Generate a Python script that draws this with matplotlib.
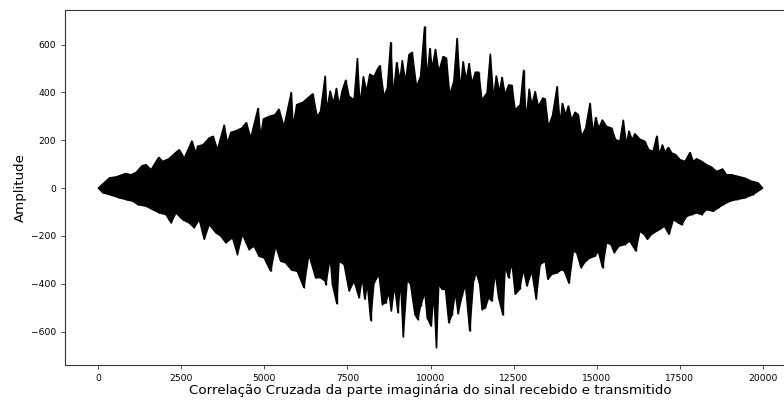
import matplotlib
matplotlib.use("Agg")
import matplotlib.pyplot as plt

# outer edge of the correlation trace
top_x = [0, 340, 540, 820, 990, 1140, 1320, 1440, 1590, 1820, 1940, 2120, 2340,
         2440, 2590, 2820, 2940, 2990, 3160, 3340, 3460, 3590, 3790, 3890, 3990,
         4140, 4320, 4460, 4590, 4810, 4890, 4970, 5140, 5320, 5440, 5590, 5810,
         5870, 5970, 6160, 6340, 6460, 6590, 6690, 6830,
         6880, 6980, 7080, 7170, 7250, 7350, 7450, 7550, 7700, 7800, 7880, 7980,
         8080, 8170, 8300, 8420, 8480, 8600, 8700, 8800, 8880, 8980, 9080, 9150,
         9250, 9350, 9450, 9580, 9700, 9820, 9900, 9980, 10050, 10150, 10250,
         10380, 10480, 10580, 10700, 10800, 10900, 10980, 11080, 11160, 11250,
         11350, 11450, 11550, 11700, 11800, 11900, 11980, 12080, 12150, 12250,
         12350, 12450, 12550, 12700, 12800, 12880, 12970, 13050, 13150, 13250,
         13380, 13450, 13550, 13670, 13810, 13900, 13970, 14070, 14150, 14250,
         14350, 14450, 14550, 14670, 14800, 14900, 14970, 15070, 15170, 15300,
         15450, 15570, 15700, 15800, 15900, 15970, 16070, 16150, 16300, 16450,
         16570, 16700, 16810, 16890, 16980, 17060, 17160, 17260, 17380, 17510,
         17660, 17810, 17910, 18010, 18160, 18310, 18460, 18610, 18790, 18910,
         19060, 19260, 19460, 19660, 19860, 20000]
top_y = [0, 43, 47, 61, 56, 66, 94, 98, 77, 129, 112, 122, 150,
         161, 126, 198, 147, 175, 182, 210, 217, 161, 265, 189, 233,
         240, 251, 275, 210, 335, 217, 289, 300, 307, 331, 258, 402,
         258, 349, 359, 381, 395, 300, 321, 470,
         328, 407, 356, 419, 349, 412, 453, 384, 370, 544, 349, 467,
         405, 477, 467, 502, 513, 384, 419, 611, 391, 526, 453, 534,
         446, 558, 569, 425, 467, 676, 460, 586, 502, 582, 488,
         551, 544, 391, 446, 628, 412, 530, 453, 523, 439,
         485, 485, 370, 398, 562, 377, 471, 402, 465, 391,
         432, 430, 328, 349, 495, 286, 416, 349, 405, 342,
         377, 373, 258, 303, 426, 272, 356, 307, 345, 286,
         318, 307, 217, 251, 356, 230, 297, 251, 286, 258,
         251, 203, 196, 286, 182, 240, 203, 228, 205, 196,
         161, 154, 219, 140, 182, 150, 171, 147, 140, 119,
         112, 150, 112, 123, 112, 98, 88, 70, 80, 56,
         56, 49, 42, 29, 22, 0]

bot_x = [0, 140, 340, 490, 640, 840, 1040, 1190, 1440, 1640, 1840, 2040, 2190,
         2340, 2540, 2740, 2890, 3040, 3190, 3340, 3540, 3690, 3840, 4040, 4190,
         4340, 4540, 4690, 4840, 4990, 5190, 5340, 5490, 5640, 5820, 5990, 6190,
         6340, 6540, 6690, 6830,
         6850, 6980, 7050, 7180, 7250, 7400, 7550, 7700, 7850, 7950, 8020, 8100,
         8200, 8300, 8450, 8550, 8650, 8750, 8820, 8920, 9020, 9100, 9180, 9300,
         9400, 9530, 9620, 9700, 9830, 9900, 10020, 10100, 10180, 10250, 10350,
         10450, 10550, 10650, 10750, 10830, 10950, 11050, 11180, 11300, 11380,
         11480, 11550, 11650, 11750, 11850, 11950, 12050, 12180, 12250, 12350,
         12450, 12550, 12680, 12800, 12900, 13050, 13180, 13300, 13450, 13530,
         13650, 13800, 13950, 14030, 14170, 14300, 14400, 14530, 14670, 14800,
         14950, 15050, 15180, 15300, 15430, 15530, 15670, 15850, 16000, 16180,
         16300, 16430, 16530, 16650, 16800, 16900, 17040, 17180, 17310, 17460,
         17560, 17710, 17860, 18010, 18160, 18310, 18510, 18660, 18810, 19010,
         19210, 19460, 19710, 20000]
bot_y = [0, -20, -27, -34, -41, -48, -55, -69, -76, -90, -104, -111, -146,
         -104, -132, -146, -166, -132, -215, -153, -187, -201, -229, -208, -278,
         -194, -257, -243, -285, -292, -348, -243, -306, -313, -343, -348, -417,
         -278, -375, -375, -389,
         -404, -292, -404, -484, -306, -320, -431, -390, -459, -376, -466, -404,
         -554, -397, -362, -487, -480, -438, -515, -410, -522, -390, -624, -383,
         -404, -529, -550, -494, -438, -543, -578, -445, -668, -404, -424,
         -424, -564, -529, -438, -526, -452, -404, -599, -383, -355,
         -404, -508, -501, -459, -473, -355, -459, -532, -327, -376,
         -313, -445, -424, -341, -410, -348, -466, -320, -306, -382,
         -361, -355, -341, -348, -399, -264, -271, -334, -306, -292,
         -285, -264, -334, -229, -236, -271, -243, -236, -222, -264,
         -181, -194, -215, -194, -181, -173, -160, -194, -132, -146,
         -153, -118, -111, -104, -111, -90, -97, -83, -69, -55,
         -48, -41, -27, 0]

fig = plt.figure(figsize=(7.84, 4.0), dpi=100)
ax = fig.add_axes([65 / 784, 35 / 400, (796 - 65) / 784, 355 / 400])

# the trace is so dense it reads as a solid band between its two edges
ax.fill(top_x + bot_x[::-1], top_y + bot_y[::-1], color="black", lw=1.0)
# individual excursions drawn as thin vertical strokes
ax.vlines(top_x, 0, top_y, color="black", lw=1.0)
ax.vlines(bot_x, bot_y, 0, color="black", lw=1.0)

ax.set_xlim(-1000, 21000)
ax.set_ylim(-740, 745)
ax.set_xticks([0, 2500, 5000, 7500, 10000, 12500, 15000, 17500, 20000])
ax.set_yticks([-600, -400, -200, 0, 200, 400, 600])
ax.tick_params(labelsize=6.6, length=3, width=0.6, color="#333333")
for s in ax.spines.values():
    s.set_linewidth(0.8)
    s.set_color("#333333")

ax.set_xlabel("Correlação Cruzada da parte imaginária do sinal recebido e transmitido",
              fontsize=9.6, labelpad=1)
ax.set_ylabel("Amplitude", fontsize=9.6, labelpad=3)

fig.savefig("out.png", dpi=100)
